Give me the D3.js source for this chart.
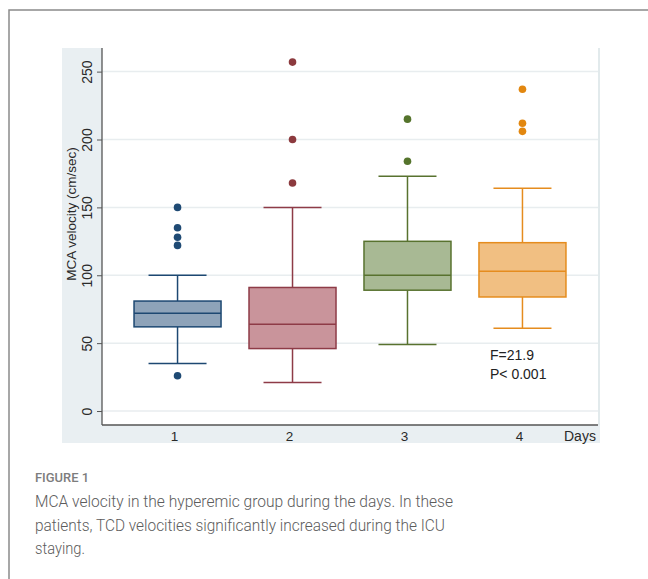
<!DOCTYPE html>
<html>
<head>
<meta charset="utf-8">
<script src="https://cdn.jsdelivr.net/npm/d3@7"></script>
<style>
  body { margin: 0; background: #fff; }
  svg { display: block; }
</style>
</head>
<body>
<svg id="chart" width="648" height="579"></svg>
<script>
// box plot values per day
const days = ["1", "2", "3", "4"];
const lowerWhisker = [35, 21, 49, 61];
const q1 = [62, 46, 89, 84];
const median = [72, 64, 100, 103];
const q3 = [81, 91, 125, 124];
const upperWhisker = [100, 150, 173, 164];
const outliers = [[26, 122, 128, 135, 150], [168, 200, 257], [184, 215], [206, 212, 237]];
const yTicks = [0, 50, 100, 150, 200, 250];

const fills = ["#8ea3b9", "#c9949b", "#a8b994", "#f1bf82"];
const strokes = ["#1d4872", "#8e3b47", "#58722f", "#e58c1e"];
const dots = ["#1f4a74", "#8c3a3e", "#55742c", "#e2870f"];

const svg = d3.select("#chart");

// card frame
svg.append("rect")
    .attr("x", 9).attr("y", 10)
    .attr("width", 700).attr("height", 700)
    .attr("fill", "none")
    .attr("stroke", "#8a8a8a")
    .attr("stroke-width", 1.5);

// graph background
svg.append("rect")
    .attr("x", 62).attr("y", 48)
    .attr("width", 538).attr("height", 395)
    .attr("fill", "#e9eff2");

let plot = { left: 102, right: 598, top: 48, bottom: 425 };

svg.append("rect")
    .attr("x", plot.left).attr("y", plot.top)
    .attr("width", plot.right - plot.left).attr("height", plot.bottom - plot.top)
    .attr("fill", "#fff");

let x = d3.scalePoint().domain(days).range([plot.left, plot.right]).padding(0.657);
let y = d3.scaleLinear().domain([-10.3, 267.4]).range([plot.bottom, plot.top]);

// grid
svg.append("g").selectAll("line")
    .data(yTicks)
    .enter().append("line")
    .attr("x1", plot.left).attr("x2", plot.right)
    .attr("y1", function (d) { return y(d); })
    .attr("y2", function (d) { return y(d); })
    .attr("stroke", "#e8edef")
    .attr("stroke-width", 1.5);

// right border of plot region
svg.append("line")
    .attr("x1", 599).attr("x2", 599)
    .attr("y1", plot.top).attr("y2", plot.bottom)
    .attr("stroke", "#e2eaec").attr("stroke-width", 2);

// y axis
let yAxis = d3.axisLeft(y).tickValues(yTicks).tickSize(5).tickFormat(d3.format("d"));
let gy = svg.append("g").attr("transform", "translate(" + plot.left + ",0)").call(yAxis);
gy.select(".domain").attr("stroke", "#555").attr("stroke-width", 1.3)
    .attr("d", "M0," + plot.top + "V" + plot.bottom);
gy.selectAll(".tick line").attr("stroke", "#555");
gy.selectAll(".tick text")
    .attr("x", 0).attr("y", 0).attr("dy", null)
    .attr("transform", "translate(-10,0) rotate(-90)")
    .attr("text-anchor", "middle")
    .style("font-family", "Liberation Sans, Arial, sans-serif")
    .style("font-size", "14px")
    .attr("fill", "#2a2a2a");

// x axis
svg.append("line")
    .attr("x1", plot.left).attr("x2", plot.right)
    .attr("y1", plot.bottom).attr("y2", plot.bottom)
    .attr("stroke", "#555").attr("stroke-width", 1.3);

svg.append("g").selectAll("text")
    .data(days)
    .enter().append("text")
    .attr("x", function (d) { return x(d) - 3; })
    .attr("y", 441)
    .attr("text-anchor", "middle")
    .style("font-family", "Liberation Sans, Arial, sans-serif")
    .style("font-size", "13.5px")
    .attr("fill", "#2a2a2a")
    .text(function (d) { return d; });

svg.append("text")
    .attr("x", 564).attr("y", 441)
    .style("font-family", "Liberation Sans, Arial, sans-serif")
    .style("font-size", "14px")
    .attr("fill", "#2a2a2a")
    .text("Days");

svg.append("text")
    .attr("transform", "translate(76,214) rotate(-90)")
    .attr("text-anchor", "middle")
    .style("font-family", "Liberation Sans, Arial, sans-serif")
    .style("font-size", "13.5px")
    .attr("fill", "#2a2a2a")
    .text("MCA velocity (cm/sec)");

// boxes
let boxW = 87, capW = 58;
let boxes = svg.append("g").selectAll("g")
    .data(days)
    .enter().append("g");

boxes.append("line")
    .attr("x1", function (d) { return x(d); }).attr("x2", function (d) { return x(d); })
    .attr("y1", function (d, i) { return y(upperWhisker[i]); })
    .attr("y2", function (d, i) { return y(q3[i]); })
    .attr("stroke", function (d, i) { return strokes[i]; }).attr("stroke-width", 1.5);
boxes.append("line")
    .attr("x1", function (d) { return x(d); }).attr("x2", function (d) { return x(d); })
    .attr("y1", function (d, i) { return y(q1[i]); })
    .attr("y2", function (d, i) { return y(lowerWhisker[i]); })
    .attr("stroke", function (d, i) { return strokes[i]; }).attr("stroke-width", 1.5);
[upperWhisker, lowerWhisker].forEach(function (arr) {
    boxes.append("line")
        .attr("x1", function (d) { return x(d) - capW / 2; })
        .attr("x2", function (d) { return x(d) + capW / 2; })
        .attr("y1", function (d, i) { return y(arr[i]); })
        .attr("y2", function (d, i) { return y(arr[i]); })
        .attr("stroke", function (d, i) { return strokes[i]; }).attr("stroke-width", 1.5);
});
boxes.append("rect")
    .attr("x", function (d) { return x(d) - boxW / 2; })
    .attr("width", boxW)
    .attr("y", function (d, i) { return y(q3[i]); })
    .attr("height", function (d, i) { return y(q1[i]) - y(q3[i]); })
    .attr("fill", function (d, i) { return fills[i]; })
    .attr("stroke", function (d, i) { return strokes[i]; })
    .attr("stroke-width", 1.5);
boxes.append("line")
    .attr("x1", function (d) { return x(d) - boxW / 2; })
    .attr("x2", function (d) { return x(d) + boxW / 2; })
    .attr("y1", function (d, i) { return y(median[i]); })
    .attr("y2", function (d, i) { return y(median[i]); })
    .attr("stroke", function (d, i) { return strokes[i]; }).attr("stroke-width", 1.5);

// outliers
boxes.each(function (d, i) {
    d3.select(this).selectAll("circle")
        .data(outliers[i])
        .enter().append("circle")
        .attr("cx", x(d))
        .attr("cy", function (v) { return y(v); })
        .attr("r", 3.8)
        .attr("fill", dots[i]);
});

// stats annotation
svg.append("text")
    .attr("x", 490).attr("y", 360)
    .style("font-family", "Liberation Sans, Arial, sans-serif")
    .style("font-size", "14px")
    .attr("fill", "#222")
    .text("F=21.9");
svg.append("text")
    .attr("x", 490).attr("y", 379)
    .style("font-family", "Liberation Sans, Arial, sans-serif")
    .style("font-size", "14px")
    .attr("fill", "#222")
    .text("P< 0.001");

// caption
svg.append("text")
    .attr("x", 35).attr("y", 482)
    .style("font-family", "Roboto, sans-serif")
    .style("font-size", "12.5px")
    .style("font-weight", "500")
    .attr("fill", "#7d7d7d")
    .attr("textLength", 54).attr("lengthAdjust", "spacingAndGlyphs")
    .text("FIGURE 1");

let captionLines = [
    ["MCA velocity in the hyperemic group during the days. In these", 418],
    ["patients, TCD velocities significantly increased during the ICU", 410],
    ["staying.", 50]
];
svg.append("g").selectAll("text")
    .data(captionLines)
    .enter().append("text")
    .attr("x", 35)
    .attr("y", function (d, i) { return 507 + i * 23.5; })
    .attr("textLength", function (d) { return d[1]; })
    .attr("lengthAdjust", "spacingAndGlyphs")
    .style("font-family", "Roboto, sans-serif")
    .style("font-size", "16.5px")
    .style("font-weight", "300")
    .attr("fill", "#5c5c5c")
    .text(function (d) { return d[0]; });
</script>
</body>
</html>
